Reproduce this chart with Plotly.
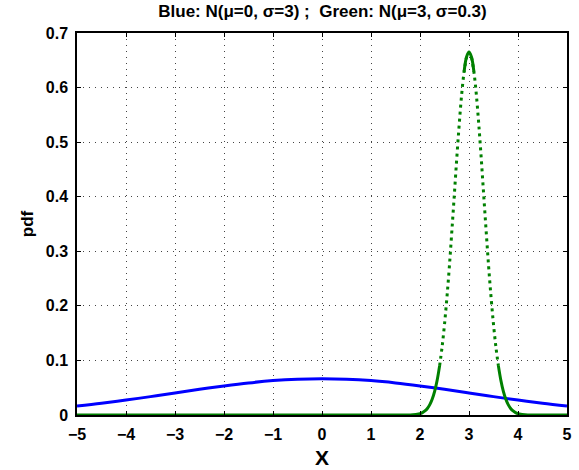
import plotly.graph_objects as go

# Blue curve values
blue_x = [-5, -4.5, -4, -3.5, -3, -2.5, -2, -1.5, -1, -0.5, 0, 0.5, 1, 1.5, 2, 2.5, 3, 3.5, 4, 4.5, 5]
blue_y = [0.0166, 0.0216, 0.0274, 0.0337, 0.0403, 0.0470, 0.0532, 0.0587, 0.0630, 0.0656, 0.0665,
          0.0656, 0.0630, 0.0587, 0.0532, 0.0470, 0.0403, 0.0337, 0.0274, 0.0216, 0.0166]

# Green curve values
green_x = [-5, 0, 1.5, 1.8, 2.0, 2.05, 2.1, 2.15, 2.2, 2.25, 2.3, 2.35, 2.4, 2.45, 2.5, 2.55, 2.6, 2.65,
           2.7, 2.75, 2.8, 2.85, 2.9, 2.95, 3.0, 3.05, 3.1, 3.15, 3.2, 3.25, 3.3, 3.35, 3.4, 3.45,
           3.5, 3.55, 3.6, 3.65, 3.7, 3.75, 3.8, 3.85, 3.9, 3.95, 4.0, 4.2, 4.5, 5]
green_y = [0, 0, 0, 0.0002, 0.0026, 0.0044, 0.0074, 0.0120, 0.0190, 0.0292, 0.0437, 0.0636, 0.0900,
           0.124, 0.166, 0.216, 0.273, 0.337, 0.403, 0.470, 0.532, 0.587, 0.629, 0.656, 0.665,
           0.656, 0.629, 0.587, 0.532, 0.470, 0.403, 0.337, 0.273, 0.216, 0.166, 0.124, 0.0900,
           0.0636, 0.0437, 0.0292, 0.0190, 0.0120, 0.0074, 0.0044, 0.0026, 0.0002, 0, 0]

x_ticks = [-5, -4, -3, -2, -1, 0, 1, 2, 3, 4, 5]
y_ticks = [0, 0.1, 0.2, 0.3, 0.4, 0.5, 0.6, 0.7]

GREEN = "#008000"
BLUE = "#0000FF"


def seg(lo, hi):
    xs, ys = [], []
    for a, b in zip(green_x, green_y):
        if lo <= a <= hi:
            xs.append(a)
            ys.append(b)
    return xs, ys


fig = go.Figure()
fig.add_trace(go.Scatter(x=blue_x, y=blue_y, mode="lines", line=dict(color=BLUE, width=3, shape="spline"),
                         showlegend=False))

# dense (solid-looking) parts and dotted parts of the green series
for lo, hi, dash, w in [(-5, 2.4, "solid", 3), (2.4, 2.95, "3px,4px", 3), (2.9, 3.1, "solid", 3),
                        (3.05, 3.6, "3px,4px", 3), (3.6, 5, "solid", 3)]:
    xs, ys = seg(lo, hi)
    fig.add_trace(go.Scatter(x=xs, y=ys, mode="lines",
                             line=dict(color=GREEN, width=w, dash=dash, shape="spline"),
                             showlegend=False))

font = "Liberation Sans, Arial, sans-serif"
fig.update_layout(
    template="none",
    width=579, height=470,
    margin=dict(l=77, r=12, t=33, b=55, autoexpand=False),
    plot_bgcolor="white", paper_bgcolor="white",
    font=dict(family=font, size=16, color="black"),
    title=dict(text="<b>Blue: N(μ=0, σ=3) ;  Green: N(μ=3, σ=0.3)</b>", x=0.557, xanchor="center",
               y=0.99, yanchor="top", font=dict(size=17)),
    xaxis=dict(range=[-5, 5], tickvals=x_ticks,
               ticktext=["<b>%s</b>" % ("\u2212%d" % -v if v < 0 else v) for v in x_ticks],
               tickfont=dict(size=16), automargin=False, ticklabelstandoff=4, ticklabeloverflow="allow",
               showgrid=True, gridcolor="#444", griddash="1px,5px", gridwidth=1,
               zeroline=False, showline=True, linecolor="black", linewidth=1.5, mirror="ticks",
               ticks="inside", ticklen=4, tickcolor="black"),
    yaxis=dict(range=[0, 0.7], tickvals=y_ticks, ticktext=["<b>%g</b>" % v for v in y_ticks],
               tickfont=dict(size=16), automargin=False, ticklabelstandoff=4, ticklabeloverflow="allow",
               showgrid=True, gridcolor="#444", griddash="1px,5px", gridwidth=1,
               zeroline=False, showline=True, linecolor="black", linewidth=1.5, mirror="ticks",
               ticks="inside", ticklen=4, tickcolor="black",
               title=dict(text="<b>pdf</b>", font=dict(size=17), standoff=8)),
    annotations=[dict(text="<b>X</b>", xref="paper", yref="paper", x=0.5, y=-0.11,
                      xanchor="center", yanchor="middle", showarrow=False, font=dict(size=21))],
)

fig.write_html("out.html", config={"displayModeBar": False},
               post_script="document.body.style.margin='0';")
